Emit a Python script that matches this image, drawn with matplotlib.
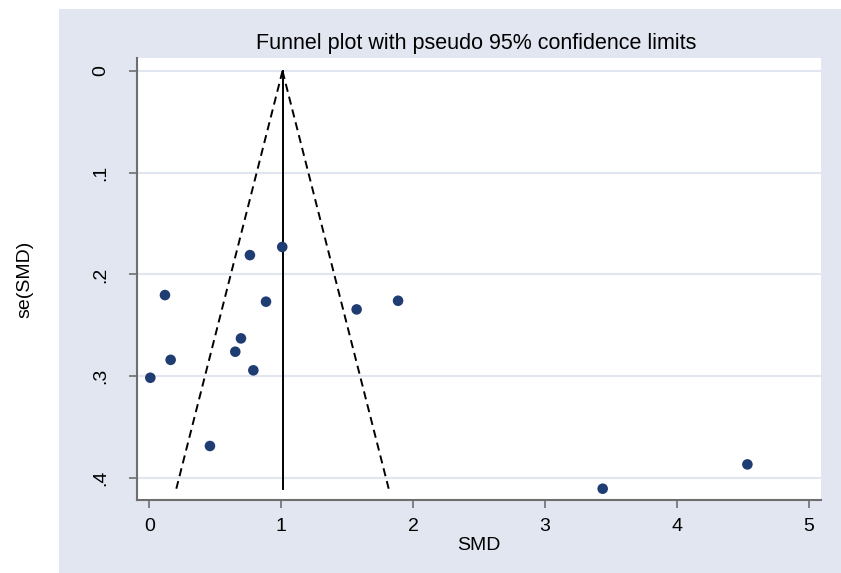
import matplotlib
matplotlib.use("Agg")
import matplotlib.pyplot as plt
from matplotlib.patches import Rectangle
import numpy as np

plt.rcParams['font.family'] = ['Liberation Sans', 'DejaVu Sans']

# Data: study effect sizes (SMD) and their standard errors
smd = [0.763, 1.008, 0.119, 0.885, 1.572, 1.886, 0.695, 0.652, 0.162, 0.008, 0.789, 0.460, 3.437, 4.534]
se_smd = [0.181, 0.173, 0.2203, 0.2268, 0.2344, 0.2259, 0.2629, 0.276, 0.284, 0.3016, 0.2943, 0.3687, 0.4107, 0.3868]
pooled = 1.01
x_ticks = [0, 1, 2, 3, 4, 5]
y_ticks = [0, 0.1, 0.2, 0.3, 0.4]
y_tick_labels = ['0', '.1', '.2', '.3', '.4']

bg = '#E1E6F0'
grid_c = '#E1E6F0'
navy = '#1F3D72'
spine_c = '#6E6E6E'

fig = plt.figure(figsize=(8.41, 5.73), dpi=100)
fig.patch.set_facecolor('white')
rect = Rectangle((59/841, 0), (841-59)/841, (573-9)/573,
                 transform=fig.transFigure, facecolor=bg,
                 edgecolor='none', zorder=-10)
fig.add_artist(rect)

ax = fig.add_axes([137/841, (573-500.3)/573, (821-137)/841, (500.3-58)/573])
ax.set_zorder(1)
ax.set_facecolor('white')

se_max = max(se_smd)
ax.plot([pooled, pooled], [0, se_max], color='black', lw=1.4, zorder=2)
ax.plot([pooled, pooled - 1.96*se_max], [0, se_max], color='black', lw=1.4,
        dashes=(4.2, 2.6), zorder=2)
ax.plot([pooled, pooled + 1.96*se_max], [0, se_max], color='black', lw=1.4,
        dashes=(4.2, 2.6), zorder=2)

ax.scatter(smd, se_smd, s=58, color=navy, zorder=3, edgecolors='none')

ax.set_xlim(-0.093, 5.092)
ax.set_ylim(0.4221, -0.0128)

ax.set_xticks(x_ticks)
ax.set_xticklabels([str(t) for t in x_ticks], fontsize=14)
ax.set_yticks(y_ticks)
ax.set_yticklabels(y_tick_labels, fontsize=14, rotation=90, va='center')

ax.yaxis.grid(True, color=grid_c, lw=1.5, zorder=1)
ax.set_axisbelow(True)

for s in ['top', 'right']:
    ax.spines[s].set_visible(False)
for s in ['left', 'bottom']:
    ax.spines[s].set_color(spine_c)
    ax.spines[s].set_linewidth(1.5)

ax.tick_params(axis='both', direction='out', length=6, width=1.2,
               color=spine_c, labelcolor='black')
ax.tick_params(axis='y', pad=14)
ax.tick_params(axis='x', pad=7)

ax.set_xlabel('SMD', fontsize=14, va='center', ha='center')
ax.xaxis.set_label_coords((479-137)/684, -(545-500.3)/442.3)
ax.set_ylabel('se(SMD)', fontsize=14, va='center', ha='center')
ax.yaxis.set_label_coords((25-137)/684, (500.3-279)/442.3)

fig.text(476/841, 1 - 44/573, 'Funnel plot with pseudo 95% confidence limits',
         fontsize=15.5, ha='center', va='center')

fig.savefig('out.png', dpi=100)
